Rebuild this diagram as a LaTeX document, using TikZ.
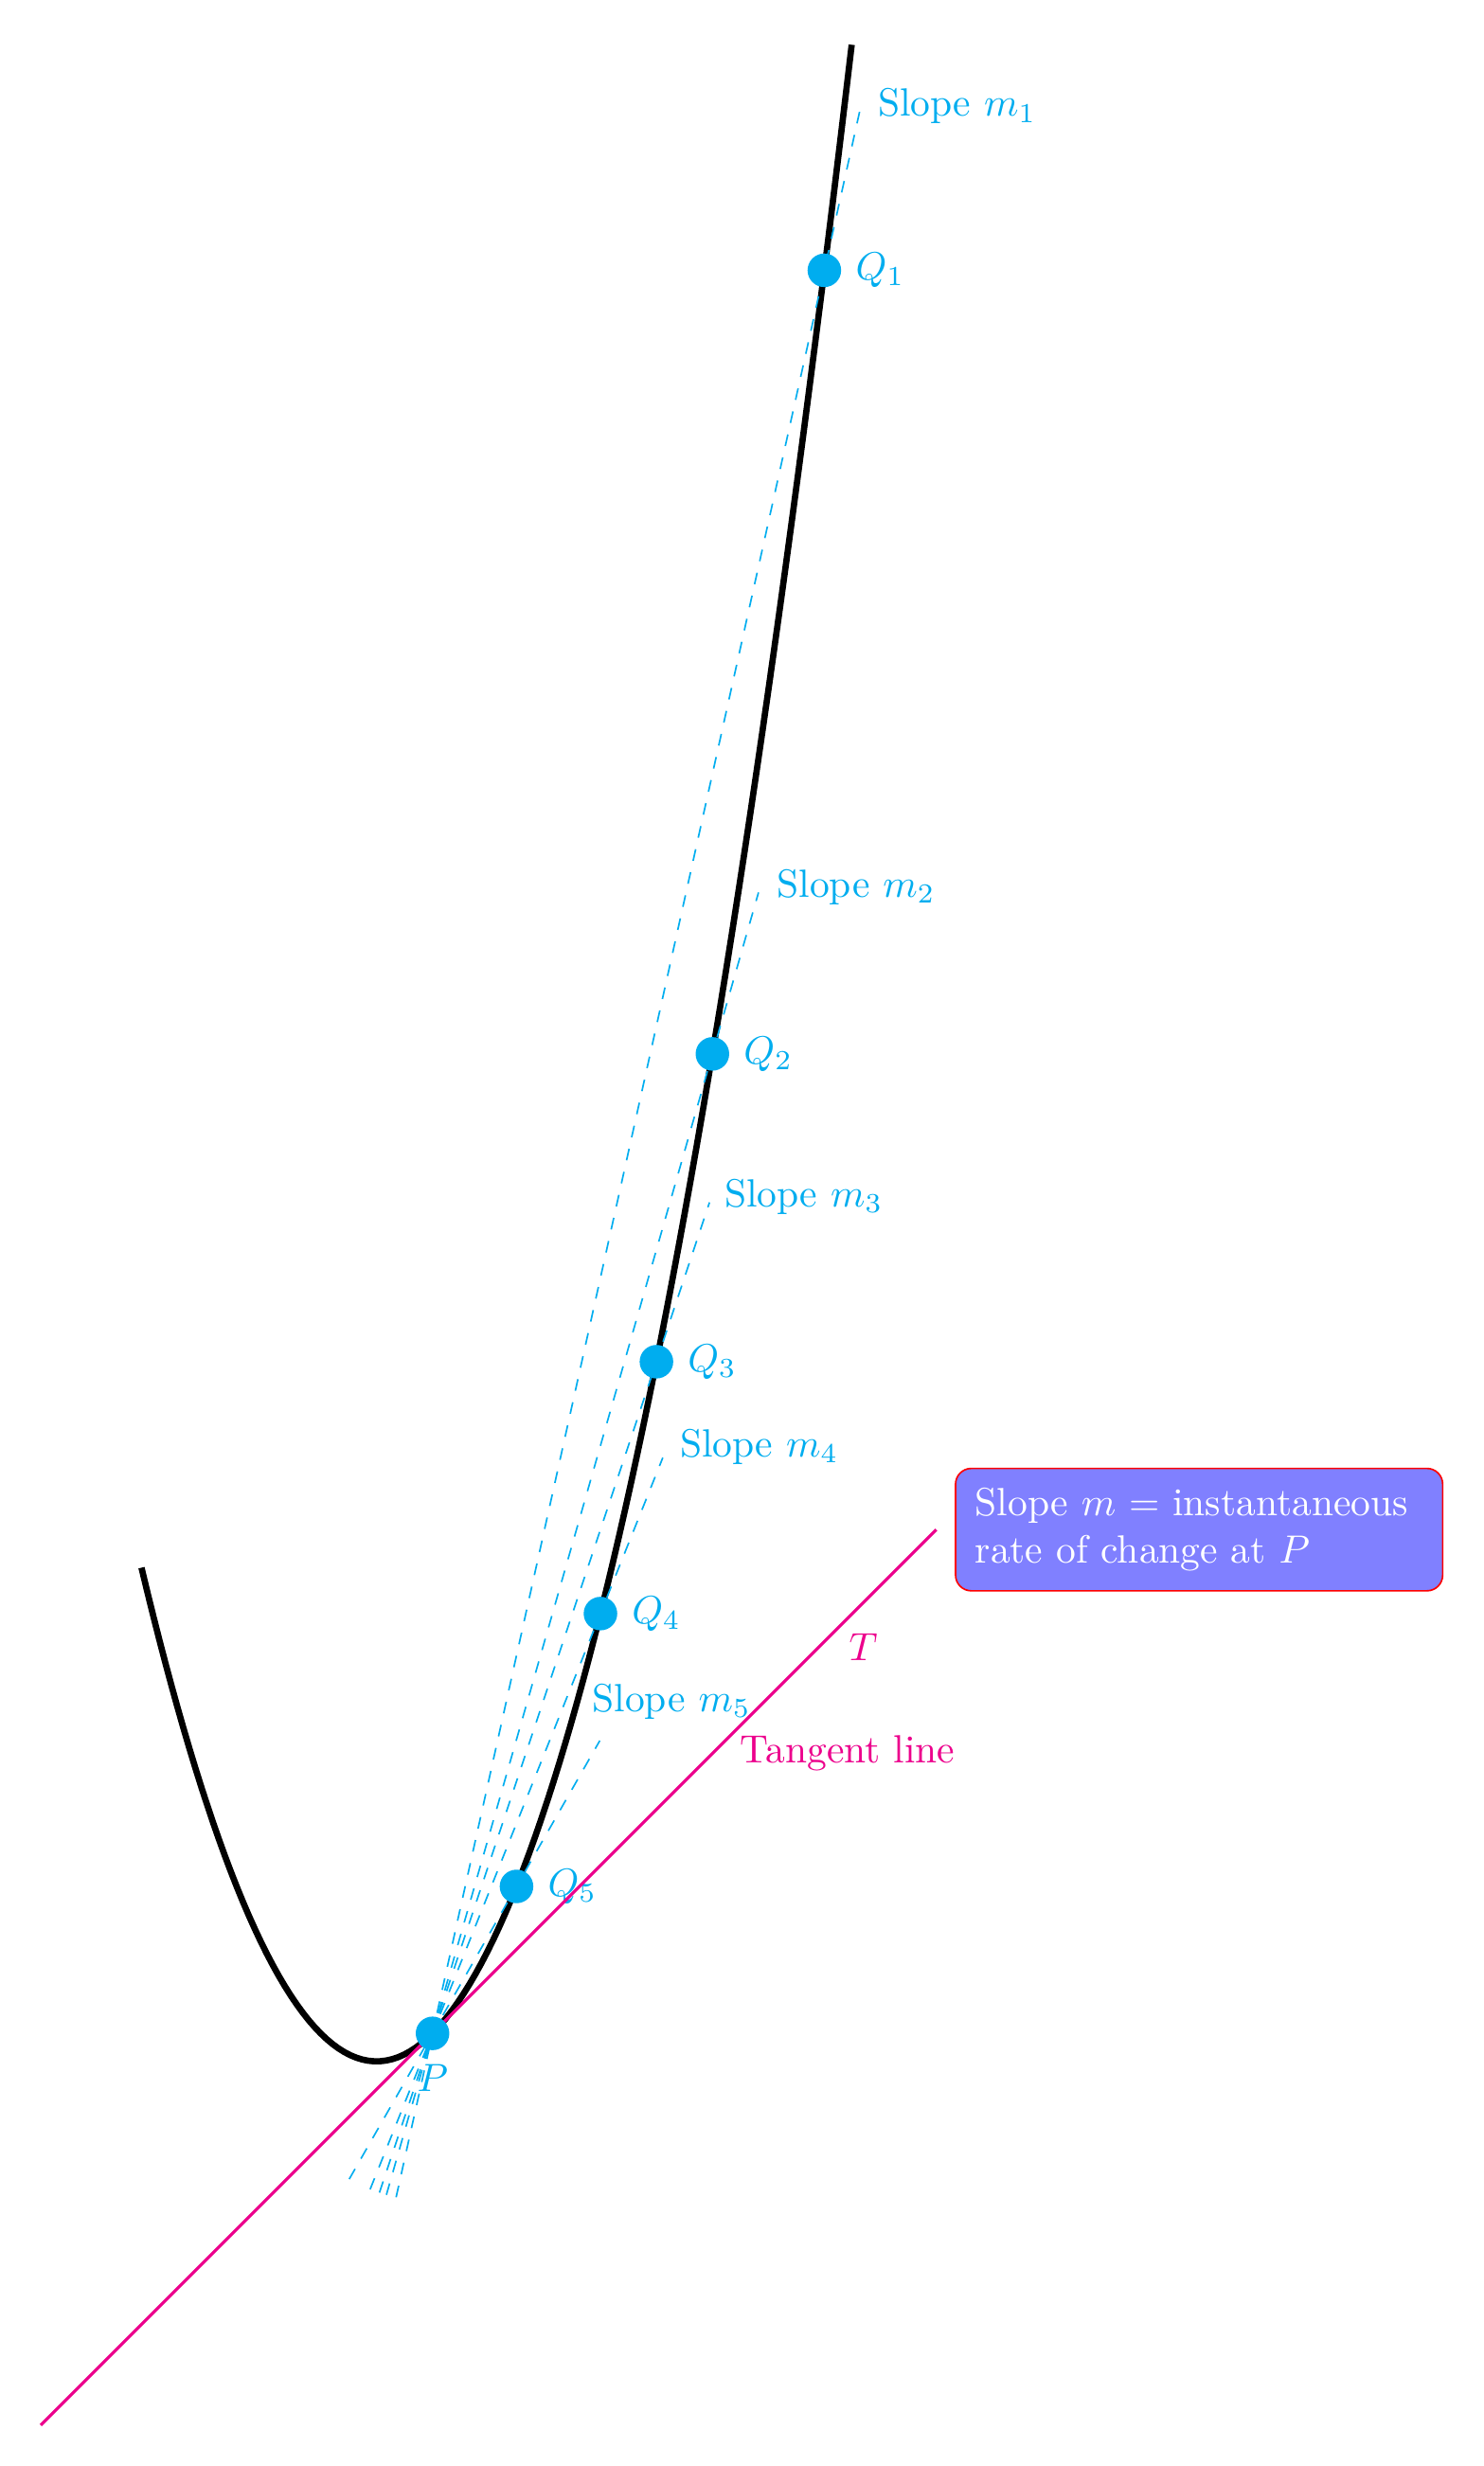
\documentclass[tikz,border=0pt]{standalone}
\usetikzlibrary{calc,positioning}
\begin{document}
\begin{tikzpicture}[dot/.style={circle, fill=cyan, inner sep=0pt, minimum size=0.3cm},
    secant/.style={cyan, dashed}, every label/.style={cyan},
    ratebox/.style={fill=blue!50, draw=red, text=white, rounded corners,
      text width=4cm, align=left, inner sep=5pt}]
  \useasboundingbox (-3.364,-3.615) rectangle (9.885,18.415);
  \draw[ultra thick] plot[domain=-2.1:4.245, samples=120] (\x,{\x*\x});
  \coordinate (P) at (0.5,0.25);
  % secant lines through P and Q_i
  \foreach \t/\i/\dx/\dy in {4/1/0.3/0, 3/2/0.4/0.5, 2.5/3/0.1/0.5, 2/4/0.3/1, 1.25/5/-1.9/3.5}{
    \coordinate (q\i) at (\t,{\t*\t});
    \draw[secant] ($(P)!-1.5cm!(q\i)$) -- ($(q\i)!-1.5cm!(P)$) coordinate (e\i);
    \node[right, cyan, xshift=\dx mm, yshift=\dy mm] (s\i) at (e\i) {Slope $m_\i$};
    \node[dot, label=right:$Q_\i$] (Q\i) at (q\i) {};
  }
  % tangent line at P
  \coordinate (tstart) at (-3,-3.25);
  \coordinate (tend) at (5,4.75);
  \draw[magenta, thick] (tstart) -- (tend)
    node[pos=0.9, below right, xshift=-1.1mm] (tlabel) {$T$}
    node[pos=0.75, right=1.2mm] (tanlabel) {Tangent line};
  \node[dot, label=below:$P$] (Pdot) at (P) {};
  \node[ratebox, right=4.7pt of tend] (rate) {Slope $m$ = instantaneous rate of change at $P$};
\end{tikzpicture}
\end{document}
